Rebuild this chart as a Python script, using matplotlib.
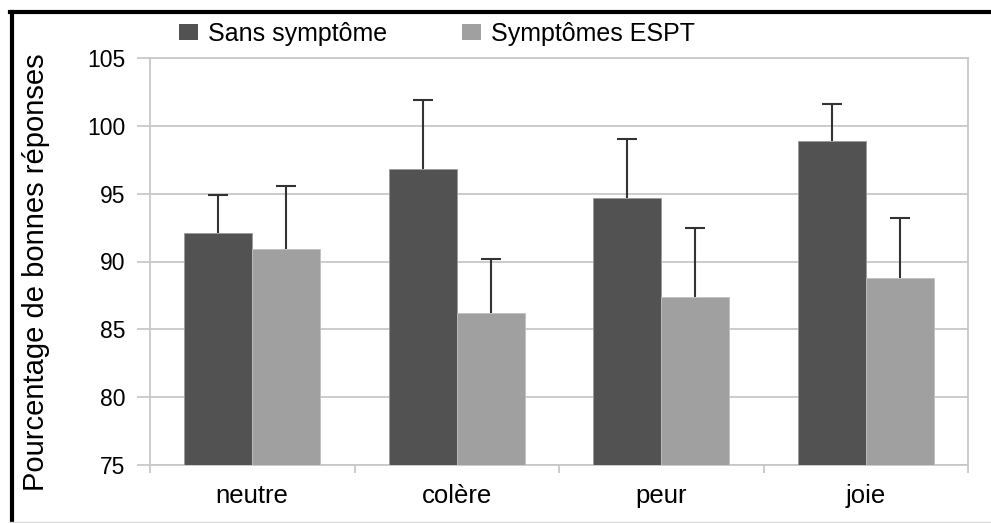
import numpy as np
import matplotlib.pyplot as plt
from matplotlib.patches import Patch
from matplotlib.lines import Line2D

plt.rcParams['font.family'] = ['Liberation Sans', 'DejaVu Sans']

# données
categories = ['neutre', 'colère', 'peur', 'joie']
sans_symptome = [92.1, 96.8, 94.65, 98.9]
sans_symptome_err = [2.8, 5.1, 4.35, 2.7]
symptomes_espt = [90.9, 86.2, 87.4, 88.8]
symptomes_espt_err = [4.65, 4.0, 5.1, 4.4]

dark = '#525252'
light = '#a0a0a0'

fig = plt.figure(figsize=(9.91, 5.23), dpi=100)
ax = fig.add_axes([150 / 991, 58 / 523, 818 / 991, 407 / 523])

x = np.arange(len(categories))
w = 0.333
ax.bar(x - w / 2, sans_symptome, w, color=dark, edgecolor='#9a9a9a', linewidth=0.6, zorder=3)
ax.bar(x + w / 2, symptomes_espt, w, color=light, edgecolor='#c0c0c0', linewidth=0.6, zorder=3)
# seule la moitié haute des barres d'erreur est visible
for pos, vals, errs in [(x - w / 2, sans_symptome, sans_symptome_err),
                        (x + w / 2, symptomes_espt, symptomes_espt_err)]:
    eb = ax.errorbar(pos, vals, yerr=[np.zeros(4), errs], fmt='none',
                     ecolor='#333333', elinewidth=1.5, capsize=7, capthick=1.5, zorder=4)
    eb[1][0].set_visible(False)

ax.set_xlim(-0.5, 3.5)
ax.set_ylim(75, 105)
ax.set_yticks(np.arange(75, 106, 5))
ax.grid(axis='y', color='#c8c8c8', linewidth=1.3, zorder=0)
for s in ax.spines.values():
    s.set_color('#c8c8c8')
    s.set_linewidth(1.3)

ax.set_xticks(x)
ax.set_xticklabels(categories, fontsize=18.5)
ax.tick_params(axis='x', length=0, pad=14)
ax.set_xticks(np.arange(-0.5, 4, 1), minor=True)
ax.tick_params(axis='x', which='minor', length=6, color='#c8c8c8', width=1.3)
ax.tick_params(axis='y', length=9.5, color='#c8c8c8', width=1.3, pad=8, labelsize=16.5)

fig.text(36 / 991, 1 - 272 / 523, 'Pourcentage de bonnes réponses', rotation=90,
         ha='center', va='center', fontsize=21)

handles = [Patch(facecolor=dark), Patch(facecolor=light)]
fig.legend(handles, ['Sans symptôme', 'Symptômes ESPT'], ncol=2, frameon=False,
           loc='center left', bbox_to_anchor=(179 / 991, 1 - 34 / 523), fontsize=18,
           handlelength=0.75, handleheight=0.6, handletextpad=0.4, columnspacing=3.0,
           borderaxespad=0, borderpad=0)

# cadre
fig.add_artist(Line2D([12 / 991, 12 / 991], [0, 1 - 12 / 523], color='black', linewidth=3))
fig.add_artist(Line2D([10 / 991, 1], [1 - 12 / 523, 1 - 12 / 523], color='black', linewidth=3))
fig.add_artist(Line2D([10 / 991, 1], [1.5 / 523, 1.5 / 523], color='#d8d8d8', linewidth=1))

fig.savefig('out.png', dpi=100)
